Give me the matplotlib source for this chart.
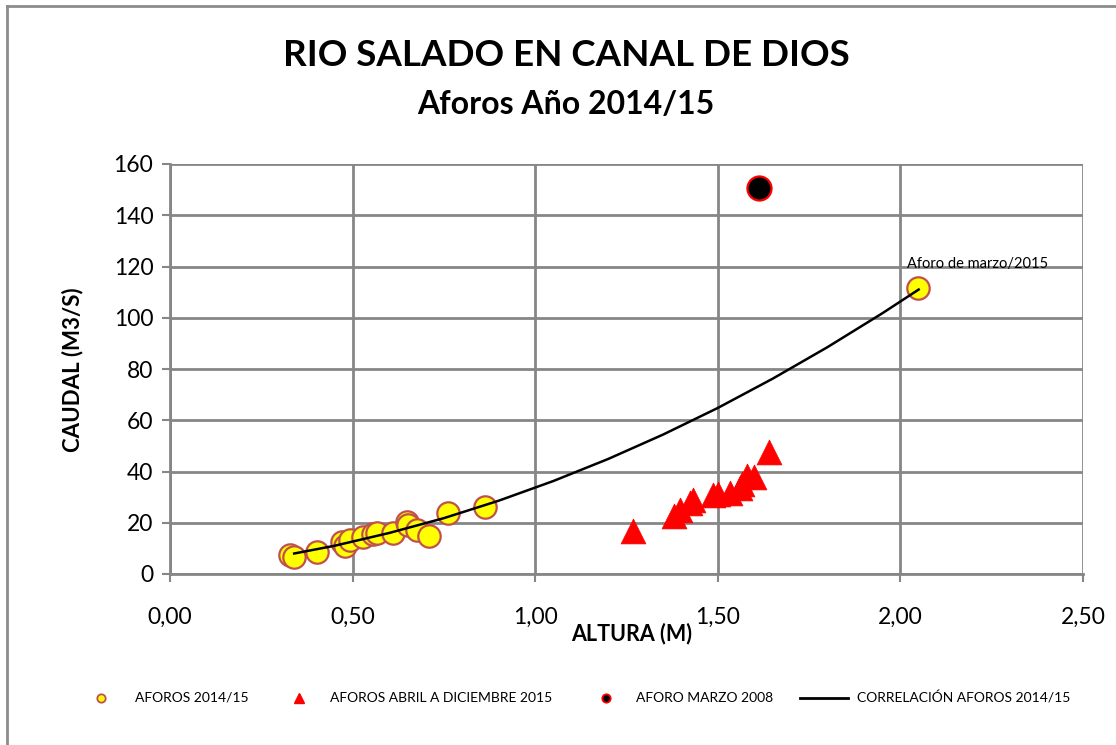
import matplotlib
matplotlib.use("Agg")
import matplotlib.pyplot as plt
from matplotlib.lines import Line2D

plt.rcParams['font.family'] = ['Lato', 'DejaVu Sans']

# Data
aforos_x = [0.329, 0.340, 0.403, 0.471, 0.479, 0.493, 0.528, 0.556, 0.567, 0.611,
            0.649, 0.652, 0.676, 0.709, 0.761, 0.863, 2.048]
aforos_y = [7.4, 6.6, 8.6, 12.5, 10.9, 13.3, 14.4, 15.6, 16.0, 16.0,
            20.3, 19.1, 17.2, 14.8, 23.8, 26.1, 111.5]

abril_x = [1.268, 1.380, 1.396, 1.424, 1.432, 1.487, 1.500, 1.533, 1.561, 1.566, 1.580, 1.600, 1.640]
abril_y = [16.8, 22.6, 25.0, 27.7, 28.9, 30.8, 31.2, 31.6, 33.6, 35.1, 38.2, 37.9, 47.6]

marzo2008_x = [1.613]
marzo2008_y = [150.6]

corr_x = [0.34, 0.45, 0.60, 0.75, 0.90, 1.05, 1.20, 1.35, 1.50, 1.65, 1.80, 1.95, 2.05]
corr_y = [8.0, 11.0, 16.0, 21.8, 28.6, 36.3, 44.9, 54.4, 64.8, 76.2, 88.5, 101.7, 111.0]

x_ticks = [0.0, 0.5, 1.0, 1.5, 2.0, 2.5]
x_tick_labels = ['0,00', '0,50', '1,00', '1,50', '2,00', '2,50']
y_ticks = [0, 20, 40, 60, 80, 100, 120, 140, 160]

legend_labels = ['AFOROS 2014/15', 'AFOROS ABRIL A DICIEMBRE 2015', 'AFORO MARZO 2008',
                 'CORRELACIÓN AFOROS 2014/15']

W, H = 1116, 745
fig = plt.figure(figsize=(W / 100, H / 100), dpi=100)
AX_L, AX_R, AX_T, AX_B = 170, 1083, 164, 574
ax = fig.add_axes([AX_L / W, 1 - AX_B / H, (AX_R - AX_L) / W, (AX_B - AX_T) / H])

grid_c = '#868686'
ax.set_xlim(0, 2.5)
ax.set_ylim(0, 160)
ax.set_xticks(x_ticks)
ax.set_xticklabels(x_tick_labels)
ax.set_yticks(y_ticks)
ax.grid(True, color=grid_c, linewidth=2)
ax.set_axisbelow(True)
for s in ['top', 'right']:
    ax.spines[s].set_visible(False)
for s in ['left', 'bottom']:
    ax.spines[s].set_color(grid_c)
    ax.spines[s].set_linewidth(2)
ax.tick_params(axis='both', colors=grid_c, labelcolor='black', labelsize=16.5,
               length=6, width=1.5)
ax.tick_params(axis='x', pad=18)
ax.tick_params(axis='y', pad=6)

ax.plot(corr_x, corr_y, color='black', linewidth=1.8, zorder=3)
ax.scatter(aforos_x, aforos_y, s=260, c='#FFFF00', edgecolors='#C0504D',
           linewidths=1.6, zorder=2)
ax.scatter(abril_x, abril_y, s=320, c='#FF0000', marker='^', edgecolors='#FF0000',
           linewidths=0.5, zorder=2)
ax.scatter(marzo2008_x, marzo2008_y, s=300, c='black', edgecolors='#FF0000',
           linewidths=1.6, zorder=4)

ax.text(2.018, 121.0, 'Aforo de marzo/2015', fontsize=10.5, ha='left', va='center')

ax.set_ylabel('CAUDAL (M3/S)', fontsize=16, fontweight='bold')
ax.set_xlabel('ALTURA (M)', fontsize=15.5, fontweight='bold')
ax.xaxis.set_label_coords((632 - AX_L) / (AX_R - AX_L), -(623 - AX_B) / (AX_B - AX_T))
ax.yaxis.set_label_coords(-(AX_L - 83) / (AX_R - AX_L), (AX_B - 370) / (AX_B - AX_T))

fig.text(566 / W, 1 - 55 / H, 'RIO SALADO EN CANAL DE DIOS', fontsize=26.5,
         fontweight='bold', ha='center', va='center')
fig.text(566 / W, 1 - 105 / H, 'Aforos Año 2014/15', fontsize=23,
         fontweight='bold', ha='center', va='center')

# Legend (placed manually to match the reference)
ly = 1 - 698 / H
leg_marker_x = [101, 299, 606]
leg_text_x = [135, 330, 636, 857]
fig.add_artist(Line2D([leg_marker_x[0] / W], [ly], transform=fig.transFigure, linestyle='none',
                      marker='o', markersize=6, markerfacecolor='#FFFF00',
                      markeredgecolor='#C0504D', markeredgewidth=1.3))
fig.add_artist(Line2D([leg_marker_x[1] / W], [ly], transform=fig.transFigure, linestyle='none',
                      marker='^', markersize=7, markerfacecolor='#FF0000',
                      markeredgecolor='#FF0000'))
fig.add_artist(Line2D([leg_marker_x[2] / W], [ly], transform=fig.transFigure, linestyle='none',
                      marker='o', markersize=6, markerfacecolor='black',
                      markeredgecolor='#FF0000', markeredgewidth=1.3))
fig.add_artist(Line2D([800 / W, 848 / W], [ly, ly], transform=fig.transFigure,
                      color='black', linewidth=2))
for tx, lab in zip(leg_text_x, legend_labels):
    fig.text(tx / W, ly, lab, fontsize=10, ha='left', va='center')

# Outer chart border
fig.add_artist(Line2D([7 / W, 7 / W], [0, 1 - 6 / H], transform=fig.transFigure,
                      color='#8c8c8c', linewidth=2))
fig.add_artist(Line2D([7 / W, 1], [1 - 6 / H, 1 - 6 / H], transform=fig.transFigure,
                      color='#8c8c8c', linewidth=2))

fig.savefig('out.png', dpi=100)
